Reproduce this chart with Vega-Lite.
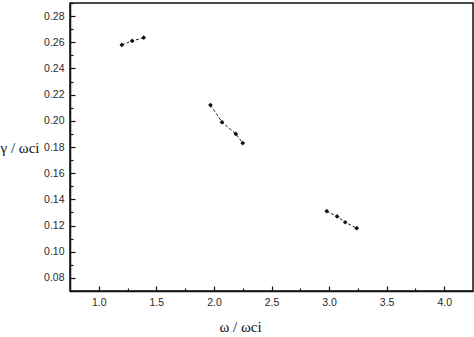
{
  "$schema": "https://vega.github.io/schema/vega-lite/v6.json",
  "width": 403,
  "height": 288,
  "autosize": {"type": "none"},
  "padding": {"left": 70, "top": 3, "right": 1, "bottom": 46},
  "background": "white",
  "config": {
    "view": {"stroke": "#111", "strokeWidth": 1.5},
    "axis": {
      "domainColor": "#111",
      "domainWidth": 1.5,
      "tickColor": "#111",
      "tickWidth": 1.2,
      "ticks": true,
      "grid": false,
      "zindex": 1,
      "labelFont": "Liberation Sans",
      "labelFontSize": 10.5,
      "labelColor": "#2a2a2a",
      "titleFont": "Liberation Serif",
      "titleFontWeight": "normal",
      "titleFontSize": 15,
      "titleColor": "#111"
    }
  },
  "data": {
    "values": [
      {"g": "a", "x": 1.2, "y": 0.258},
      {"g": "a", "x": 1.29, "y": 0.261},
      {"g": "a", "x": 1.39, "y": 0.2635},
      {"g": "b", "x": 1.97, "y": 0.212},
      {"g": "b", "x": 2.07, "y": 0.199},
      {"g": "b", "x": 2.19, "y": 0.19},
      {"g": "b", "x": 2.25, "y": 0.183},
      {"g": "c", "x": 2.98, "y": 0.131},
      {"g": "c", "x": 3.07, "y": 0.127},
      {"g": "c", "x": 3.14, "y": 0.1225},
      {"g": "c", "x": 3.24, "y": 0.118}
    ]
  },
  "encoding": {
    "x": {
      "field": "x",
      "type": "quantitative",
      "scale": {"domain": [0.75, 4.25], "nice": false, "zero": false},
      "axis": {
        "title": "ω / ωci",
        "values": [1.0, 1.25, 1.5, 1.75, 2.0, 2.25, 2.5, 2.75, 3.0, 3.25, 3.5, 3.75, 4.0],
        "labelExpr": "abs(datum.value*2 - round(datum.value*2)) < 0.01 ? format(datum.value, '.1f') : ''",
        "tickSize": {"condition": {"test": "abs(datum.value*2 - round(datum.value*2)) < 0.01", "value": -5}, "value": -3},
        "labelPadding": 11,
        "titleX": 170,
        "titleY": 35,
        "titleAlign": "center",
        "titleBaseline": "middle"
      }
    },
    "y": {
      "field": "y",
      "type": "quantitative",
      "scale": {"domain": [0.07, 0.29], "nice": false, "zero": false},
      "axis": {
        "title": "γ / ωci",
        "values": [0.07, 0.08, 0.09, 0.1, 0.11, 0.12, 0.13, 0.14, 0.15, 0.16, 0.17, 0.18, 0.19, 0.2, 0.21, 0.22, 0.23, 0.24, 0.25, 0.26, 0.27, 0.28, 0.29],
        "labelExpr": "abs(datum.value*50 - round(datum.value*50)) < 0.01 && datum.value > 0.075 && datum.value < 0.285 ? format(datum.value, '.2f') : ''",
        "tickSize": {"condition": {"test": "abs(datum.value*50 - round(datum.value*50)) < 0.01", "value": -5}, "value": -3},
        "labelPadding": 11,
        "titleAngle": 0,
        "titleX": -70,
        "titleY": 144,
        "titleAlign": "left",
        "titleBaseline": "middle"
      }
    }
  },
  "layer": [
    {
      "mark": {"type": "line", "color": "#222", "strokeWidth": 1, "strokeDash": [3, 2]},
      "encoding": {"detail": {"field": "g"}}
    },
    {
      "mark": {"type": "point", "shape": "diamond", "filled": true, "color": "#111", "size": 22, "opacity": 1}
    }
  ]
}
